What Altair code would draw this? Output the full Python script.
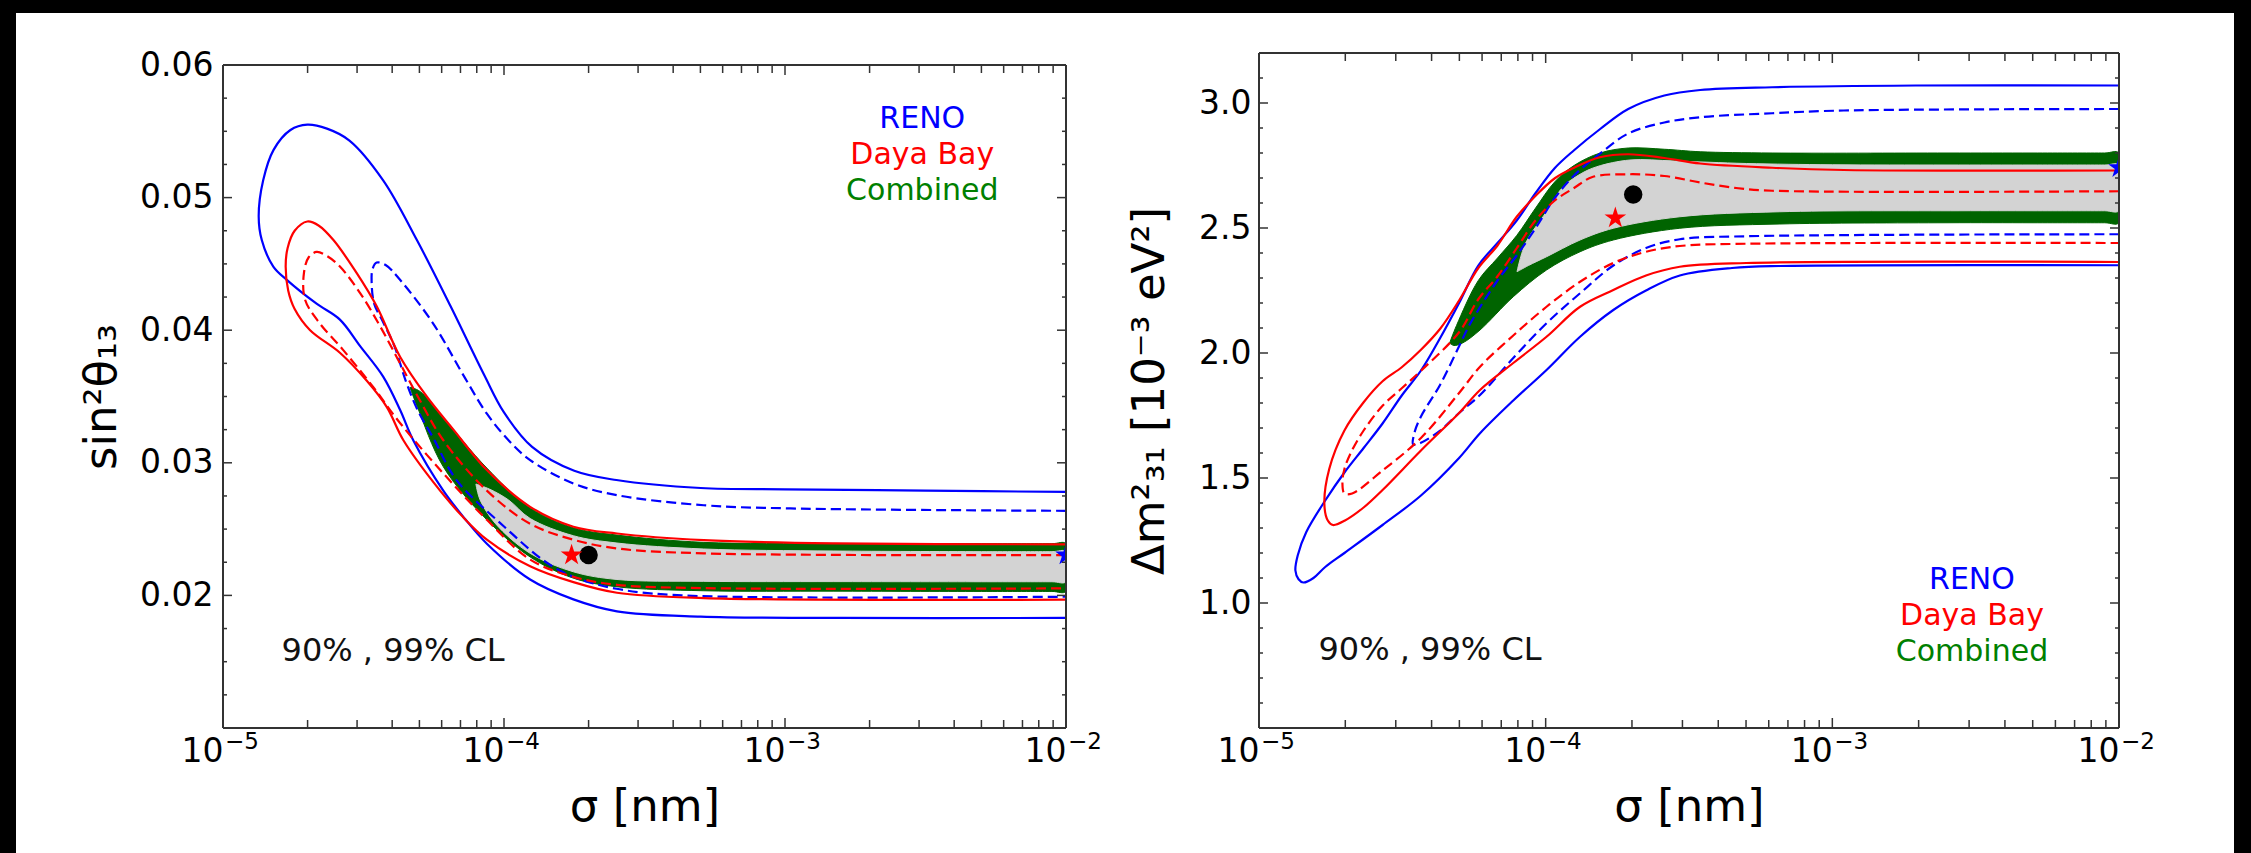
import altair as alt
import pandas as pd

FONT = "DejaVu Sans"
BLUE, RED = "#0000ff", "#ff0000"
GREEN_FILL, GREEN_TEXT, GRAY = "#006400", "#008000", "#d3d3d3"
INK = "#333333"
STAR = ("M0,-1L0.2245,-0.309L0.951,-0.309L0.3633,0.118L0.5878,0.809L0,0.382"
        "L-0.5878,0.809L-0.3633,0.118L-0.951,-0.309L-0.2245,-0.309Z")

# ---------------- shared x axis ----------------
X_DOMAIN = [1e-5, 1e-2]
X_MAJOR = [1e-5, 1e-4, 1e-3, 1e-2]
X_BASE_LABEL = "10"
X_EXPONENTS = ["−5", "−4", "−3", "−2"]
X_MINOR = [2e-5, 3e-5, 4e-5, 5e-5, 6e-5, 7e-5, 8e-5, 9e-5,
           2e-4, 3e-4, 4e-4, 5e-4, 6e-4, 7e-4, 8e-4, 9e-4,
           2e-3, 3e-3, 4e-3, 5e-3, 6e-3, 7e-3, 8e-3, 9e-3]

# ---------------- left panel: sin^2 theta13 ----------------
L_Y_DOMAIN = [0.01, 0.06]
L_Y_MAJOR = [0.01, 0.02, 0.03, 0.04, 0.05, 0.06]
L_Y_LABELS = [0.02, 0.03, 0.04, 0.05, 0.06]
L_Y_MINOR = [0.0125, 0.015, 0.0175, 0.0225, 0.025, 0.0275, 0.0325, 0.035, 0.0375,
             0.0425, 0.045, 0.0475, 0.0525, 0.055, 0.0575]

# contours: (log10 sigma[nm], sin^2 theta13)
L_RENO99 = [(-2.0, 0.0278), (-2.5, 0.0279), (-3.0, 0.0280), (-3.3, 0.0281), (-3.6, 0.0287),
            (-3.75, 0.0294), (-3.9, 0.0312), (-4.0, 0.0338), (-4.07, 0.0366), (-4.19, 0.0418),
            (-4.31, 0.0468), (-4.43, 0.0513), (-4.55, 0.0543), (-4.63, 0.0552), (-4.70, 0.0555),
            (-4.76, 0.0551), (-4.82, 0.0536), (-4.857, 0.0513), (-4.873, 0.0486), (-4.862, 0.0468),
            (-4.821, 0.0448), (-4.773, 0.0438), (-4.667, 0.0420), (-4.584, 0.0408), (-4.512, 0.0388),
            (-4.430, 0.0365), (-4.370, 0.0340), (-4.323, 0.0317), (-4.216, 0.0279), (-4.14, 0.0258),
            (-4.061, 0.0239), (-3.907, 0.0212), (-3.753, 0.0197), (-3.598, 0.0188), (-3.3, 0.0184),
            (-2.8, 0.0183), (-2.0, 0.0183)]
L_RENO90 = [(-2.0, 0.02638), (-2.98, 0.02656), (-3.289, 0.0268), (-3.598, 0.02756), (-3.753, 0.02844),
            (-3.907, 0.0302), (-3.984, 0.0317), (-4.061, 0.0337), (-4.139, 0.0364), (-4.252, 0.0405),
            (-4.370, 0.0438), (-4.42, 0.0449), (-4.453, 0.0451), (-4.468, 0.0446), (-4.471, 0.0436),
            (-4.462, 0.0420), (-4.430, 0.0406), (-4.390, 0.0388), (-4.350, 0.0362), (-4.308, 0.0340),
            (-4.25, 0.0318), (-4.169, 0.0287), (-4.0, 0.0252), (-3.85, 0.0225), (-3.753, 0.0214),
            (-3.6, 0.0205), (-3.367, 0.0200), (-2.0, 0.0199)]
L_DB99 = [(-2.0, 0.02385), (-2.826, 0.02392), (-3.289, 0.02417), (-3.598, 0.02467), (-3.753, 0.02518),
          (-3.907, 0.02668), (-4.061, 0.02945), (-4.18, 0.0325), (-4.275, 0.0350), (-4.370, 0.0380),
          (-4.453, 0.0418), (-4.524, 0.0443), (-4.607, 0.0468), (-4.66, 0.0479), (-4.700, 0.0482),
          (-4.745, 0.0475), (-4.770, 0.0462), (-4.777, 0.0448), (-4.768, 0.0430), (-4.745, 0.0416),
          (-4.690, 0.0400), (-4.584, 0.0383), (-4.489, 0.0362), (-4.417, 0.0342), (-4.358, 0.0317),
          (-4.25, 0.0285), (-4.15, 0.0260), (-4.061, 0.0242), (-3.907, 0.0222), (-3.753, 0.0210),
          (-3.598, 0.0202), (-3.289, 0.0198), (-2.0, 0.01968)]
L_DB90 = [(-2.0, 0.02304), (-3.289, 0.02317), (-3.598, 0.02354), (-3.753, 0.0242), (-3.907, 0.0254),
          (-4.061, 0.0279), (-4.216, 0.0317), (-4.299, 0.0347), (-4.370, 0.0375), (-4.441, 0.0403),
          (-4.512, 0.0428), (-4.584, 0.0448), (-4.630, 0.0456), (-4.667, 0.0459), (-4.695, 0.0455),
          (-4.712, 0.0443), (-4.708, 0.0423), (-4.655, 0.0405), (-4.572, 0.0385), (-4.465, 0.0357),
          (-4.370, 0.0330), (-4.216, 0.0292), (-4.061, 0.0257), (-3.907, 0.0227), (-3.753, 0.0214),
          (-3.598, 0.0208), (-3.289, 0.02055), (-2.0, 0.02053)]
L_COMB99 = [(-4.335, 0.0357), (-4.30, 0.0354), (-4.216, 0.0334), (-4.061, 0.0296), (-3.907, 0.0266),
            (-3.753, 0.0251), (-3.598, 0.02455), (-3.289, 0.0240), (-2.826, 0.02392), (-2.3, 0.0239),
            (-2.05, 0.0239), (-2.0, 0.0239), (-2.0, 0.0203), (-2.05, 0.0203), (-2.3, 0.0203),
            (-2.826, 0.02032), (-3.289, 0.02035), (-3.598, 0.02065), (-3.753, 0.0213), (-3.907, 0.0229),
            (-4.061, 0.0257), (-4.216, 0.0297), (-4.308, 0.0342), (-4.335, 0.0357)]
L_COMB90 = [(-4.10, 0.0284), (-4.05, 0.0280), (-3.984, 0.0272), (-3.907, 0.0258), (-3.753, 0.0245),
            (-3.598, 0.02395), (-3.289, 0.0235), (-2.826, 0.02335), (-2.3, 0.0233), (-2.05, 0.0233),
            (-2.0, 0.0233), (-2.0, 0.02103), (-2.05, 0.02103), (-2.3, 0.02103), (-2.826, 0.02104),
            (-3.289, 0.02106), (-3.598, 0.0212), (-3.753, 0.02178), (-3.907, 0.02317),
            (-4.031, 0.02543), (-4.085, 0.0272), (-4.10, 0.0284)]
L_BEST_COMB = (2.0e-4, 0.02304)
L_BEST_DB = (1.74e-4, 0.02304)
L_BEST_RENO = (1.0e-2, 0.02304)
L_LEGEND_POS = [(3.08e-3, 0.0559), (3.08e-3, 0.0532), (3.08e-3, 0.0505)]
L_CL_POS = (4.03e-5, 0.0158)

# ---------------- right panel: Delta m^2_31 ----------------
R_Y_DOMAIN = [0.5, 3.2]
R_Y_MAJOR = [0.5, 1.0, 1.5, 2.0, 2.5, 3.0]
R_Y_LABELS = [1.0, 1.5, 2.0, 2.5, 3.0]
R_Y_MINOR = [0.6, 0.7, 0.8, 0.9, 1.1, 1.2, 1.3, 1.4, 1.6, 1.7, 1.8, 1.9, 2.1, 2.2, 2.3, 2.4,
             2.6, 2.7, 2.8, 2.9, 3.1]

R_RENO99 = [(-2.0, 3.07), (-2.709, 3.07), (-3.21, 3.063), (-3.461, 3.052), (-3.586, 3.03),
            (-3.712, 2.976), (-3.811, 2.895), (-3.901, 2.811), (-3.968, 2.74), (-4.035, 2.64),
            (-4.101, 2.53), (-4.168, 2.44), (-4.235, 2.35), (-4.302, 2.20), (-4.368, 2.06),
            (-4.435, 1.93), (-4.502, 1.83), (-4.569, 1.718), (-4.635, 1.620), (-4.702, 1.522),
            (-4.769, 1.410), (-4.835, 1.284), (-4.865, 1.19), (-4.873, 1.130), (-4.862, 1.095),
            (-4.845, 1.082), (-4.81, 1.10), (-4.769, 1.144), (-4.702, 1.2), (-4.569, 1.312),
            (-4.435, 1.43), (-4.302, 1.58), (-4.229, 1.679), (-4.113, 1.81), (-3.997, 1.932),
            (-3.880, 2.065), (-3.764, 2.172), (-3.65, 2.25), (-3.532, 2.31), (-3.35, 2.34),
            (-3.183, 2.348), (-2.0, 2.351)]
R_RENO90 = [(-2.0, 2.976), (-2.96, 2.97), (-3.21, 2.959), (-3.461, 2.943), (-3.586, 2.922),
            (-3.712, 2.878), (-3.811, 2.797), (-3.901, 2.71), (-3.968, 2.62), (-4.035, 2.50),
            (-4.101, 2.39), (-4.168, 2.29), (-4.262, 2.12), (-4.302, 2.027), (-4.368, 1.873),
            (-4.435, 1.746), (-4.458, 1.68), (-4.462, 1.634), (-4.435, 1.641), (-4.368, 1.690),
            (-4.302, 1.76), (-4.229, 1.832), (-4.113, 1.98), (-3.997, 2.119), (-3.880, 2.239),
            (-3.764, 2.35), (-3.65, 2.42), (-3.532, 2.455), (-3.3, 2.467), (-2.0, 2.475)]
R_DB99 = [(-2.0, 2.73), (-2.96, 2.732), (-3.21, 2.741), (-3.461, 2.758), (-3.586, 2.78),
          (-3.712, 2.795), (-3.811, 2.783), (-3.901, 2.741), (-3.968, 2.699), (-4.035, 2.629),
          (-4.101, 2.545), (-4.168, 2.43), (-4.235, 2.34), (-4.302, 2.21), (-4.368, 2.097),
          (-4.435, 2.013), (-4.502, 1.943), (-4.569, 1.887), (-4.635, 1.803), (-4.702, 1.690),
          (-4.755, 1.536), (-4.772, 1.396), (-4.76, 1.33), (-4.742, 1.312), (-4.70, 1.33),
          (-4.635, 1.382), (-4.569, 1.452), (-4.435, 1.61), (-4.302, 1.76), (-4.229, 1.852),
          (-4.113, 1.96), (-3.997, 2.065), (-3.880, 2.185), (-3.764, 2.252), (-3.65, 2.31),
          (-3.532, 2.345), (-3.3, 2.36), (-2.0, 2.364)]
R_DB90 = [(-2.0, 2.647), (-3.21, 2.649), (-3.336, 2.66), (-3.461, 2.682), (-3.586, 2.708),
          (-3.712, 2.715), (-3.837, 2.704), (-3.901, 2.66), (-3.968, 2.61), (-4.035, 2.531),
          (-4.101, 2.419), (-4.168, 2.307), (-4.235, 2.215), (-4.302, 2.083), (-4.435, 1.929),
          (-4.502, 1.859), (-4.569, 1.789), (-4.635, 1.69), (-4.68, 1.60), (-4.702, 1.536),
          (-4.709, 1.48), (-4.702, 1.438), (-4.675, 1.438), (-4.569, 1.53), (-4.435, 1.66),
          (-4.302, 1.84), (-4.229, 1.945), (-4.113, 2.07), (-3.997, 2.185), (-3.880, 2.285),
          (-3.764, 2.36), (-3.65, 2.405), (-3.532, 2.428), (-3.3, 2.437), (-2.0, 2.44)]
R_COMB99 = [(-4.335, 2.04), (-4.311, 2.11), (-4.235, 2.29), (-4.168, 2.38), (-4.101, 2.47),
            (-4.035, 2.58), (-3.968, 2.685), (-3.901, 2.75), (-3.81, 2.80), (-3.712, 2.82),
            (-3.586, 2.815), (-3.461, 2.805), (-3.21, 2.80), (-2.6, 2.80), (-2.3, 2.80),
            (-2.05, 2.80), (-2.0, 2.80), (-2.0, 2.521), (-2.05, 2.521), (-2.3, 2.521), (-2.6, 2.521),
            (-3.183, 2.516), (-3.532, 2.499), (-3.764, 2.452), (-3.880, 2.405), (-3.997, 2.332),
            (-4.113, 2.225), (-4.229, 2.092), (-4.29, 2.04), (-4.32, 2.03), (-4.335, 2.04)]
R_COMB90 = [(-4.10, 2.325), (-4.07, 2.44), (-4.0, 2.56), (-3.939, 2.665), (-3.88, 2.715),
            (-3.822, 2.745), (-3.706, 2.772), (-3.55, 2.768), (-3.3, 2.758), (-3.0, 2.753),
            (-2.6, 2.752), (-2.3, 2.752), (-2.05, 2.752), (-2.0, 2.752), (-2.0, 2.569), (-2.05, 2.569),
            (-2.3, 2.569), (-2.555, 2.569), (-3.183, 2.565), (-3.532, 2.545), (-3.764, 2.499),
            (-3.880, 2.452), (-3.997, 2.385), (-4.06, 2.35), (-4.10, 2.325)]
R_BEST_COMB = (2.02e-4, 2.634)
R_BEST_DB = (1.75e-4, 2.54)
R_BEST_RENO = (1.0e-2, 2.741)
R_LEGEND_POS = [(3.07e-3, 1.092), (3.07e-3, 0.948), (3.07e-3, 0.804)]
R_CL_POS = (3.95e-5, 0.812)

LEGEND_TEXT = ["RENO", "Daya Bay", "Combined"]
LEGEND_COLORS = [BLUE, RED, GREEN_TEXT]
CL_TEXT = "90% , 99% CL"


def path_df(pairs):
    return pd.DataFrame({"sigma": [10.0 ** p[0] for p in pairs],
                         "val": [p[1] for p in pairs],
                         "i": list(range(len(pairs)))})


def build_panel(W, H, top, ydom, ymajor, ylabels, yfmt, yminor, ytitle, ytitle_pad, ylabel_pad,
                comb99, comb90, lines, best, legend_pos, cl_pos, borders):
    xs = alt.Scale(type="log", domain=X_DOMAIN, nice=False)
    ys = alt.Scale(domain=ydom, nice=False, zero=False, range=[H, top])
    common_axis = dict(grid=False, ticks=False, tickSize=0, domain=False,
                       labelFont=FONT, labelFontSize=33, labelColor="#000000",
                       titleFont=FONT, titleFontSize=45, titleFontWeight="normal",
                       titleColor="#000000", labelOverlap=False, labelFlush=False)
    x_axis = alt.Axis(values=X_MAJOR, labelExpr="'" + X_BASE_LABEL + "'", labelAlign="right",
                      title="σ [nm]", labelPadding=7, titlePadding=16, **common_axis)
    y_axis = alt.Axis(values=ylabels, format=yfmt, title=ytitle, labelPadding=ylabel_pad,
                      titlePadding=ytitle_pad, **common_axis)

    def X():
        return alt.X("sigma:Q", scale=xs, axis=x_axis)

    def Y():
        return alt.Y("val:Q", scale=ys, axis=y_axis)

    layers = []
    # combined 99% (green) and 90% (gray) filled regions
    for pairs, col in ((comb99, GREEN_FILL), (comb90, GRAY)):
        layers.append(alt.Chart(path_df(pairs)).mark_line(
            fill=col, stroke=col, strokeWidth=1, interpolate="catmull-rom", clip=True
        ).encode(x=X(), y=Y(), order="i:Q"))
    # contour lines
    for pairs, color, dashed in lines:
        kw = dict(color=color, strokeWidth=2.2, interpolate="catmull-rom", clip=True)
        if dashed:
            kw["strokeDash"] = [10, 5]
        layers.append(alt.Chart(path_df(pairs)).mark_line(**kw).encode(
            x=X(), y=Y(), order="i:Q"))
    # best-fit markers
    comb_pt, db_pt, reno_pt = best
    layers.append(alt.Chart(pd.DataFrame({"sigma": [comb_pt[0]], "val": [comb_pt[1]]})).mark_point(
        shape="circle", filled=True, color="#000000", size=340, opacity=1, clip=True
    ).encode(x=X(), y=Y()))
    layers.append(alt.Chart(pd.DataFrame({"sigma": [db_pt[0], reno_pt[0]],
                                          "val": [db_pt[1], reno_pt[1]],
                                          "c": [RED, BLUE]})).mark_point(
        shape=STAR, filled=True, size=520, opacity=1, clip=True
    ).encode(x=X(), y=Y(), color=alt.Color("c:N", scale=None)))
    # legend-like texts
    layers.append(alt.Chart(pd.DataFrame({"sigma": [p[0] for p in legend_pos],
                                          "val": [p[1] for p in legend_pos],
                                          "t": LEGEND_TEXT, "c": LEGEND_COLORS})).mark_text(
        font=FONT, fontSize=30, align="center", baseline="middle"
    ).encode(x=X(), y=Y(), text="t:N", color=alt.Color("c:N", scale=None)))
    layers.append(alt.Chart(pd.DataFrame({"sigma": [cl_pos[0]], "val": [cl_pos[1]],
                                          "t": [CL_TEXT]})).mark_text(
        font=FONT, fontSize=32, align="center", baseline="middle", color="#111111"
    ).encode(x=X(), y=Y(), text="t:N"))

    # exponents of the x tick labels (10^-n)
    layers.append(alt.Chart(pd.DataFrame({"sigma": X_MAJOR, "t": X_EXPONENTS})).mark_text(
        font=FONT, fontSize=23, align="left", baseline="top", dx=2, color="#000000"
    ).encode(x=X(), y=alt.value(H + 3), text="t:N"))

    # inward ticks on all four sides
    for vals, ln in ((X_MAJOR, 10), (X_MINOR, 8)):
        d = pd.DataFrame({"sigma": vals})
        layers.append(alt.Chart(d).mark_rule(color=INK, strokeWidth=1.5).encode(
            x=X(), y=alt.value(H), y2=alt.value(H - ln)))
        layers.append(alt.Chart(d).mark_rule(color=INK, strokeWidth=1.5).encode(
            x=X(), y=alt.value(top), y2=alt.value(top + ln)))
    for vals, ln in ((ymajor, 9), (yminor, 4)):
        d = pd.DataFrame({"val": vals})
        layers.append(alt.Chart(d).mark_rule(color=INK, strokeWidth=1.5).encode(
            y=Y(), x=alt.value(0), x2=alt.value(ln)))
        layers.append(alt.Chart(d).mark_rule(color=INK, strokeWidth=1.5).encode(
            y=Y(), x=alt.value(W), x2=alt.value(W - ln)))

    # plot frame
    for enc in (dict(x=alt.value(0), x2=alt.value(W), y=alt.value(top)),
                dict(x=alt.value(0), x2=alt.value(W), y=alt.value(H)),
                dict(x=alt.value(0), y=alt.value(top), y2=alt.value(H)),
                dict(x=alt.value(W), y=alt.value(top), y2=alt.value(H))):
        layers.append(alt.Chart(pd.DataFrame({"k": [0]})).mark_rule(
            color=INK, strokeWidth=2).encode(**enc))

    # dark scan border around the page
    for (x1, x2, y1, y2) in borders:
        layers.append(alt.Chart(pd.DataFrame({"k": [0]})).mark_rect(color="#000000").encode(
            x=alt.value(x1), x2=alt.value(x2), y=alt.value(y1), y2=alt.value(y2)))

    return alt.layer(*layers).properties(width=W, height=H)


LW, RW, H = 843, 860, 675

left = build_panel(
    LW, H, 12, L_Y_DOMAIN, L_Y_MAJOR, L_Y_LABELS, ".2f", L_Y_MINOR, "sin²θ₁₃", 15, 10,
    L_COMB99, L_COMB90,
    [(L_RENO99, BLUE, False), (L_RENO90, BLUE, True), (L_DB99, RED, False), (L_DB90, RED, True)],
    (L_BEST_COMB, L_BEST_DB, L_BEST_RENO), L_LEGEND_POS, L_CL_POS,
    [(-223, -207, -53, 800), (-223, 900, -53, -40)])

right = build_panel(
    RW, H, 0, R_Y_DOMAIN, R_Y_MAJOR, R_Y_LABELS, ".1f", R_Y_MINOR, "Δm²₃₁  [10⁻³ eV²]", 26, 8,
    R_COMB99, R_COMB90,
    [(R_RENO99, BLUE, False), (R_RENO90, BLUE, True), (R_DB99, RED, False), (R_DB90, RED, True)],
    (R_BEST_COMB, R_BEST_DB, R_BEST_RENO), R_LEGEND_POS, R_CL_POS,
    [(-136, 992, -53, -40), (975, 992, -53, 800)])

chart = alt.hconcat(left, right, spacing=0).properties(
    padding=0, background="#ffffff"
).configure_view(strokeOpacity=0)

chart.save("out.html", embed_options={"renderer": "svg", "actions": False})
